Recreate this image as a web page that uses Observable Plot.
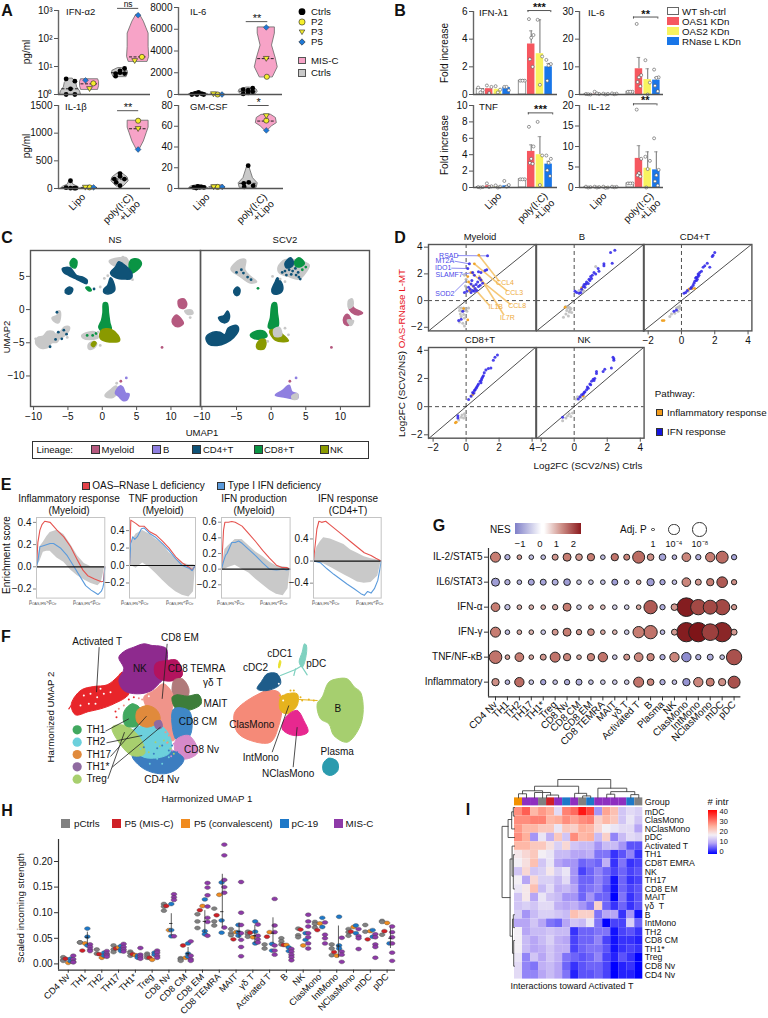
<!DOCTYPE html>
<html><head><meta charset="utf-8">
<script src="https://cdn.jsdelivr.net/npm/d3@7"></script>
<script src="https://cdn.jsdelivr.net/npm/@observablehq/plot@0.6"></script>
<style>
html,body{margin:0;padding:0;background:#fff}
#root{position:relative;width:768px;height:1018px;overflow:hidden;font-family:"Liberation Sans",Arial,sans-serif;color:#111}
#root svg{position:absolute;overflow:visible;background:transparent;max-width:none}
.t{position:absolute;white-space:nowrap;line-height:1}
.t sub{font-size:70%;vertical-align:baseline;position:relative;top:.25em}
</style></head><body><div id="root"></div>
<script>
/* ---------- panel A data: [group, offset, value, symbol] symbol 0 ctrl,1 P2,2 P3,3 P5 ---------- */
const aGroupX=[0,1,2.6,3.55];
const aIFNa=[[0,-.23,3.6,0],[0,.23,3,0],[0,0,1.6,0],[0,-.23,1,0],[0,.23,1,0],[1,-.21,3.2,3],[1,.2,2.5,1],[1,0,1.6,2],[2,-.23,5.6,0],[2,0,7,0],[2,.24,8.5,0],[2,-.23,4.5,0],[2,.24,5.6,0],[2,0,6,0],[3,0,680,3],[3,.2,22,1],[3,-.18,16,2]];
const aIL6=[[0,-.17,100,0],[0,0,200,0],[0,.17,60,0],[0,-.35,0,0],[0,-.08,0,0],[0,.27,0,0],[1,0,0,1],[1,-.22,50,2],[1,.23,0,3],[2,-.26,450,0],[2,-.26,50,0],[2,0,400,0],[2,.24,580,0],[2,.24,250,0],[2,0,150,0],[3,0,6170,3],[3,0,3300,2],[3,.03,1630,1]];
const aIL1=[[0,0,140,0],[0,-.23,15,0],[0,0,5,0],[0,.2,5,0],[0,.28,5,0],[1,0,20,1],[1,-.22,20,2],[1,.21,20,3],[2,0,270,0],[2,-.3,170,0],[2,.23,170,0],[2,0,220,0],[2,0,50,0],[2,-.2,110,0],[3,0,1225,1],[3,0,1080,2],[3,0,705,3]];
const aGM=[[0,-.25,1,0],[0,-.04,2,0],[0,.14,1.5,0],[0,.28,1,0],[0,-.12,.5,0],[0,.05,1,0],[1,0,1.5,1],[1,-.21,1.5,2],[1,.24,1.5,3],[2,0,22,0],[2,-.23,5,0],[2,.03,6,0],[2,.26,2.6,0],[2,-.21,1.5,0],[3,0,70,2],[3,0,65.5,1],[3,0,56,3]];
/* violins: [group, kind, median, [value, halfWidth] pairs] */
const aIFNaV=[[0,"g",1.6,[[1,.55],[1.3,.5],[1.8,.35],[2.6,.3],[3.7,.12]]],[1,"p",2.4,[[1.5,.45],[2,.5],[2.8,.5],[3.5,.45]]],[2,"g",6,[[4.3,.35],[5.6,.42],[7,.4],[8.8,.1]]],[3,"p",22,[[15,.5],[22,.58],[50,.55],[150,.55],[400,.3],[700,.1]]]];
const aIL6V=[[0,"g",50,[[0,.5],[100,.4],[260,.08]]],[1,"p",10,[[0,.35],[70,.3]]],[2,"g",300,[[40,.4],[250,.5],[450,.45],[640,.08]]],[3,"p",3300,[[1600,.35],[2500,.6],[3300,.5],[4500,.3],[5600,.45],[6170,.45]]]];
const aIL1V=[[0,"g",15,[[0,.5],[30,.4],[70,.15],[150,.04]]],[1,"p",20,[[5,.3],[35,.3]]],[2,"g",170,[[40,.2],[130,.45],[200,.4],[285,.08]]],[3,"p",1080,[[705,.08],[850,.3],[1000,.45],[1100,.55],[1225,.55]]]];
const aGMV=[[0,"g",1,[[0,.5],[2,.4],[3.2,.08]]],[1,"p",1.5,[[.5,.3],[3,.3]]],[2,"g",5,[[1,.45],[5,.5],[10,.25],[22,.04]]],[3,"p",65,[[56,.08],[60,.3],[63,.55],[68,.5],[71,.25]]]];
const xGroupLabels=["Lipo","poly(I:C)\n+Lipo"];
const aLegend=["Ctrls","P2","P3","P5"];
/* ---------- panel B data ---------- */
const bColors=["#ffffff","#f6575f","#f8f35f","#1976e8"];
const bLegend=["WT sh-ctrl","OAS1 KDn","OAS2 KDn","RNase L KDn"];
const bIFNl=[.4,.42,.38,.5,1,3.65,2.95,2.0];
const bIFNlErr=[.55,.62,.55,.62,1.05,4.6,5.4,2.25];
const bIFNlPts=[[.5,.3,.15],[.65,.55,.1],[.6,.35,.15],[.55,.3,.55],[1,1,1],[5.45,4.3,4.1,2.55,2.0],[5.4,2.75,.7],[2.5,2.2,2.1,1.0]];
const bIL6=[.1,.1,.1,.1,1,9.3,5.4,5.2];
const bIL6Err=[.2,.5,.3,.3,1.1,13.4,9.3,6.2];
const bIL6Pts=[[.2,0,.1],[1,.2,.4],[.3,.2,0],[.4,.3,.1],[1,1,1],[25.5,7,6.2,4.5,3],[12.4,4.3,0],[9,6.2,6,3.2,1.2]];
const bTNF=[.05,.2,.1,.2,1,4.4,4.0,2.85];
const bTNFErr=[.1,.4,.3,.5,1.1,5.2,6.2,3.2];
const bTNFPts=[[.05,.05,0],[.5,.15,.05],[.25,.1,0],[.8,.3,.1],[1,1,1],[7.4,5,3.5,3,2.9],[8,3.9,.3],[3.9,3.5,3,2.1,1.4]];
const bIL12=[.1,.1,.1,.1,1,7.1,4.7,4.3];
const bIL12Err=[.15,.2,.2,.2,1.1,10.2,8.7,8.7];
const bIL12Pts=[[.2,.1,0],[.2,.1,0],[.2,0,-.1],[.2,.15,.05],[1,1,1],[19,7,3.5,3,2.7],[7.5,6.5,4.5,0],[12,4.3,3,1.5,.5]];
/* ---------- panel C: lineage colours and outlines of UMAP clusters ---------- */
const lin={Myeloid:"#b5597f",B:"#8f7fe0",CD4:"#0f5277",CD8:"#0a9444",NK:"#8a9a00",grey:"#c8c8c8"};
const cNS=[
["grey",[[-9.7,-5],[-9.4,-4.2],[-8.6,-4],[-8,-3.3],[-7.2,-3.3],[-6.8,-3.7],[-6.2,-4],[-6.6,-4.9],[-7.4,-5],[-7.8,-5.6],[-9,-5.8]]],
["grey",[[-7.3,-1.2],[-6.6,-.9],[-6.5,-.3],[-6.2,-.2],[-6.1,-1.2],[-6.4,-2],[-7,-1.8]]],
["grey",[[-6.6,-3.6],[-6,-3.2],[-5.5,-2.6],[-4.8,-2.6],[-5,-3.4],[-6,-4.2]]],
["grey",[[-3,-3.9],[-2,-3.4],[-1,-3.4],[-.6,-4.2],[-1.5,-4.5],[-2.8,-4.3]]],
["grey",[[-2,-5.2],[-1.2,-4.8],[-.8,-5.2],[-1.4,-5.9],[-2,-5.9]]],
["grey",[[1,7.3],[2.5,7.8],[3.5,7.8],[3.8,6.8],[2,6.5]]],
["grey",[[.4,-12.9],[1.3,-12],[2,-11.5],[2.3,-12.3],[1.6,-13.2],[.6,-13.2]]],
["grey",[[12,-.2],[13,-.1],[13.2,-.6],[12.4,-.7]]],
["CD8",[[3.9,6.3],[4.2,7.5],[5.2,7.6],[5.7,6.9],[5,5.9],[4.2,5.5]]],
["CD8",[[-4.7,7],[-4.2,7.7],[-3.7,7.3],[-3.9,6.3],[-4.4,6.4]]],
["CD8",[[.2,1],[.7,1],[.9,-.5],[1.1,-2],[1.3,-3],[.2,-3.3],[-.5,-2.7],[-.1,-1.6],[.1,-.5]]],
["CD8",[[-2.4,3.3],[-2,3.4],[-1.6,2.9],[-1.9,2.8]]],
["CD4",[[1.2,5.5],[1.9,6.4],[2.4,7.2],[3,6.9],[3.9,6.1],[4.3,5.5],[4.2,4.7],[3.2,4.6],[2,4.8]]],
["CD4",[[.2,3],[.8,3.7],[1.2,4.8],[1.7,3.9],[1.8,2.9],[1,2.4],[.3,2.5]]],
["CD4",[[-5.8,6.2],[-4.7,6.3],[-4.2,5.7],[-3.7,5.1],[-2.9,4.9],[-2.2,4.4],[-2.3,3.9],[-3.2,4.3],[-4,4.7],[-4.8,5.1],[-5.6,5.6]]],
["CD4",[[-5.4,2.9],[-4.8,3.4],[-4.3,3.1],[-4.6,2.4],[-5.2,2.4]]],
["NK",[[-.2,-3.2],[.5,-2.9],[1.3,-3],[2.3,-3.9],[2.5,-4.7],[.6,-4.8],[-.3,-4.3]]],
["NK",[[-1.6,-5.3],[-1.2,-4.8],[-.9,-5],[-1.3,-5.6]]],
["Myeloid",[[11.1,1.4],[11.9,1.6],[12.3,.8],[11.9,.2],[11.2,.4]]],
["Myeloid",[[10.2,-1.5],[10.8,-.8],[11.4,-1.3],[11.8,-2.1],[11,-2.6],[10.3,-2.2]]],
["B",[[1.9,-12.6],[2.6,-11.5],[3,-11.7],[3.4,-12.6],[3.9,-12.7],[3.6,-13.6],[3,-13.7],[2.4,-13.1]]]];
const cSCV=[
["grey",[[1,6.4],[2,7.5],[3.5,7.5],[5.5,6.7],[5,5.6],[4,4.6],[2.5,5],[1.2,5.5]]],
["grey",[[-5.8,6.1],[-4.5,7.5],[-3.7,7.5],[-3.8,6],[-3,5],[-2.1,4.2],[-3,4],[-4.5,5]]],
["CD4",[[-9.4,-4.2],[-8.4,-3.4],[-7.4,-3.4],[-6.7,-3.8],[-6.2,-2.8],[-5,-2.4],[-4.7,-3],[-5.4,-4.2],[-6.5,-5],[-7.8,-5.4],[-9,-5.2]]],
["CD4",[[-7.6,-1.2],[-6.8,-.9],[-6.3,-.2],[-6,-1],[-6.4,-1.9],[-7.1,-1.9]]],
["CD4",[[.1,3],[.6,4.2],[.9,4.8],[1.6,3.8],[1.6,2.8],[.8,2.3],[.2,2.5]]],
["CD4",[[-5.4,2.8],[-4.9,3.4],[-4.5,3],[-4.7,2.2],[-5.2,2.2]]],
["CD4",[[2,7],[2.8,7.8],[3.2,7.2],[3,6.5],[2.2,6.3]]],
["CD8",[[3.4,7.2],[4,7.8],[4.8,7],[4.3,6.5],[3.6,6.5]]],
["CD8",[[.2,.9],[.7,1],[.9,-.5],[1,-2.5],[.2,-3],[-.4,-2.7],[-.1,-1.2]]],
["CD8",[[-3,-3.8],[-2,-3.2],[-1,-3.3],[-.6,-4],[-1.3,-4.4],[-2.6,-4.3]]],
["NK",[[-.2,-3.2],[.8,-3],[1,-3.2],[2.5,-4.7],[.6,-4.6]]],
["NK",[[-2.1,-5.3],[-1.5,-4.5],[-.8,-4.6],[-1,-5.9],[-2,-5.9]]],
["grey",[[.4,-3],[1.2,-2.7],[1.5,-3.9],[.5,-4]]],
["Myeloid",[[11.4,1],[12,.2],[13.2,-.5],[12.6,-.8],[11.6,-.4],[11.2,.4]]],
["grey",[[11.2,1.4],[11.7,1.6],[11.8,.6],[11.2,.2]]],
["Myeloid",[[10.5,-1.2],[11,-.7],[11.5,-1.4],[11.6,-2],[11,-2.4],[10.5,-2]]],
["grey",[[11,-1.6],[11.9,-1.7],[11.5,-2.4]]],
["B",[[.6,-12.9],[1.6,-12.2],[2.6,-11.4],[3,-12.4],[3.8,-12.7],[3.8,-13.4],[2,-13.2]]],
["grey",[[3,-13],[3.8,-12.7],[3.8,-13.4],[3.1,-13.5]]]];
const cNSDots=[["Myeloid",8.7,-5.7],["Myeloid",2.7,-10.8],["B",3.5,-10.3],["CD4",-6.6,-.4],["CD4",-6.4,-3.4],["CD4",-5.6,-3.1],["CD4",-5.2,-3.7],["CD4",-6.8,-4.5],["CD4",-7.6,-5.6],["CD4",-5.9,-4.4],["CD8",-2.2,-3.9],["CD8",-1.4,-3.9],["CD8",-.9,-3.6],["CD4",-1.2,3.1],["grey",.8,5.1],["grey",.3,4.7],["grey",-.3,3.4],["grey",4.4,4.5],["grey",-.6,-3.4],["grey",-.3,-5.4],["grey",12.8,-1.2],["grey",2.1,-11.1],["grey",-9.7,-4.4],["grey",-5.1,-4.2],["grey",3,7.9]];
const cSCVDots=[["Myeloid",8.7,-5.7],["Myeloid",2.7,-10.8],["B",3.6,-10.3],["CD4",2,5.8],["CD4",2.6,6],["CD4",3.1,5.8],["CD4",3.5,6.2],["CD4",1.6,5.6],["CD4",2.2,5.2],["CD4",2.9,5.3],["CD4",3.6,5.2],["CD4",4,4.9],["CD4",4.2,4.6],["CD4",3.9,5.6],["CD8",5,6.4],["CD8",4.5,6],["CD4",-4.3,6],["CD4",-4,5.5],["CD4",-3.4,4.9],["CD4",-2.9,4.5],["CD4",-5,5.6],["CD8",-1.9,3.2],["grey",1.3,4.6],["grey",.2,5],["grey",2,4.2],["grey",2,-2.8],["grey",2.5,-3.8],["grey",-.5,-4.8]];
const cLegend=[["Myeloid","Myeloid"],["B","B"],["CD4","CD4+T"],["CD8","CD8+T"],["NK","NK"]];
/* ---------- panel D: Log2FC pairs ---------- */
const dMyeBlue=[[1.3,3.35],[.2,2.75],[.1,2.4],[1.25,2.3],[1.15,2.25],[.9,2.1],[.75,2.15],[.4,2.1],[.5,1.9],[.8,1.7],[.9,1.55],[.7,1.4],[.35,1.5],[.6,1.2],[.45,1.1],[.3,1.25],[.75,1.05],[.85,1.15],[.55,.9],[.25,.85],[.4,.75],[-.1,.6],[.05,.7],[.15,1],[.3,.6],[.5,.7],[1,1.3],[.65,.75],[-.2,-.8],[-.3,-1.4],[-.45,-1.5]];
const dMyeOr=[[.77,3.4],[.5,2.75],[.3,2.1],[.15,1.4],[.2,.75],[.1,1.8],[.1,-1.45],[-.15,-.6]];
const dMyeGrey=[[-.1,1.9],[0,1.6],[-.05,1.1],[.25,.7],[-.45,-.5],[-.3,-.55],[-.15,-.55],[0,-.6],[.15,-.55],[-.4,-.75],[-.25,-.8],[-.1,-.75],[.05,-.8],[-.35,-1],[-.15,-1.05],[-.3,-1.2],[-.1,-1.3],[-.4,-1.6],[-.2,-1.7],[-.1,-1.9]];
const dBBlue=[[2.46,3.77],[2.2,3.6],[2.3,2.8],[1.8,2.75],[1.8,2.6],[1.45,2.4],[1.5,2.2],[1.3,2],[1.2,2.1],[1.1,1.9],[1,1.8],[.95,1.5],[.85,1.27],[.75,1.4],[.65,1],[.6,1.2],[.45,.85],[.15,.6],[.3,.55],[.05,.7],[.4,.6],[1.05,1.65],[.9,1.6],[.7,1.25],[.55,1.05]];
const dBGrey=[[1.3,2.55],[.7,1.2],[.5,.8],[.3,.75],[.6,.7],[-.5,-.45],[-.3,-.5],[-.2,-.6],[-.45,-.75],[-.3,-.85],[-.15,-.9],[-.5,-1],[-.35,-1.15],[-.65,-1.25],[-.4,-.55],[-.25,-.7]];
const dBOr=[[-.55,-.5],[.45,.95]];
const dCD4Blue=[[2,3.6],[1.9,3.4],[1.85,3.3],[1.7,2.5],[1.55,2.8],[1.4,2.6],[1.3,2.5],[1.2,2.2],[1.1,2.1],[1.05,1.9],[1,1.8],[.95,1.6],[.9,1.5],[.85,1.7],[.75,1.3],[.6,1],[.55,.9],[.35,.75],[.25,.6],[.15,.55],[-.3,-.7],[-.45,-.8],[1,2],[.9,1.75],[.8,1.45],[.7,1.15]];
const dCD4Grey=[[.4,.7],[.7,1],[-.1,-.4],[-.2,-.5],[-.1,-.6],[-.3,-.55],[-.2,-.8],[-.4,-.95],[-.6,-1],[-.7,-1.2]];
const dCD4Or=[[.45,.85],[.65,.9],[.8,.9],[-1.05,-1.5],[-1.15,-1.5]];
const dCD8Blue=[[1.9,3.67],[1.75,3.5],[1.65,3.3],[1.5,2.75],[1.35,2.7],[1.2,2.6],[1.1,2.4],[1.05,2.2],[.95,2],[.93,1.9],[.85,1.8],[.75,1.6],[.65,1.4],[.55,1.2],[.5,1.15],[.4,1],[.3,.75],[.15,.5],[-.5,-.65],[-.5,-.8],[1,2.1],[.9,1.7],[.7,1.5],[.6,1.3],[.45,.95]];
const dCD8Grey=[[.3,.7],[.5,1],[-.1,-.5],[-.25,-.6],[-.05,-.65],[-.3,-.75],[-.15,-.8],[-.45,-.95]];
const dCD8Or=[[.4,.85],[-.6,-1.1],[-.65,-1.15]];
const dNKBlue=[[2.35,3.5],[2.4,3.4],[2.4,3.3],[2.25,2.75],[1.85,2.65],[1.75,2.5],[1.35,2.5],[1.35,2.35],[1.25,2],[1.15,1.95],[1.05,1.8],[.95,1.6],[.85,1.3],[.75,1.2],[.65,1.05],[.55,.9],[.45,.85],[.35,.7],[.25,.55],[-.7,-.75],[1.2,1.85],[1,1.55],[.8,1.4],[.6,1]];
const dNKGrey=[[.2,.7],[.4,.65],[.6,.6],[.1,.55],[-.1,-.45],[-.3,-.5],[-.4,-.65],[-.2,-.7],[-.5,-.8],[-.7,-1]];
const dNKOr=[[.55,.75]];
const dMyeTags=[["RSAD",-1.05,3.37,1],["MT2A",-1.29,2.95,1],["IDO1",-1.39,2.43,1],["SLAMF7",-1.03,1.96,1],["SOD2",-1.29,.5,1],["CCL4",2.36,1.36,0],["CCL3",2.91,.6,0],["CCL8",3.09,-.42,0],["IL1B",1.8,-.47,0],["IL7R",2.5,-1.32,0]];
const dLeadBlue=[[-.55,3.37,1.3,3.35],[-.7,2.95,.2,2.75],[-.9,2.43,.1,2.4],[-.25,1.96,.4,2.1],[-.7,.65,0,1.5]];
const dLeadOr=[[.77,3.4,2,1.45],[.5,2.75,2.5,.7],[.3,2.1,2.7,-.3],[.15,1.4,1.4,-.35],[.77,1.9,2.3,-1.1]];
/* ---------- panel E: running enrichment curves [fraction, score]; bands [fraction, top, bottom] ---------- */
const e1Red=[[0,0],[.02,.22],[.05,.33],[.08,.38],[.12,.41],[.2,.4],[.3,.33],[.4,.27],[.5,.18],[.6,.06],[.68,-.03],[.75,-.08],[.85,-.11],[.95,-.135],[.98,-.13],[1,0]];
const e1Blue=[[0,0],[.02,.05],[.05,.18],[.1,.19],[.2,.21],[.25,.21],[.35,.17],[.45,.1],[.55,0],[.65,-.1],[.72,-.17],[.8,-.21],[.85,-.23],[.9,-.25],[.95,-.22],[.97,-.19],[.985,-.15],[1,0]];
const e1Band=[[0,0,0],[.05,.18,.05],[.1,.22,.13],[.15,.27,.14],[.2,.31,.14],[.3,.33,.08],[.4,.29,.04],[.5,.2,-.03],[.6,.1,-.08],[.7,.03,-.12],[.8,0,-.15],[.9,0,-.17],[.95,0,-.14],[1,0,0]];
const e2Red=[[0,0],[.02,.52],[.1,.48],[.15,.45],[.22,.45],[.3,.39],[.4,.35],[.5,.28],[.6,.2],[.7,.1],[.8,.03],[.9,-.02],[.95,-.05],[1,0]];
const e2Blue=[[0,0],[.02,.25],[.05,.33],[.08,.3],[.12,.33],[.18,.42],[.22,.43],[.3,.37],[.4,.32],[.5,.25],[.6,.17],[.7,.08],[.8,0],[.9,-.03],[.95,-.06],[.98,-.02],[1,0]];
const e2Band=[[0,0,0],[.05,.3,-.01],[.1,.36,-.03],[.2,.4,.03],[.3,.36,-.02],[.4,.3,-.09],[.5,.25,-.17],[.6,.15,-.24],[.7,.08,-.3],[.8,.03,-.34],[.9,.01,-.36],[.97,.01,-.3],[1,0,0]];
const e3Red=[[0,0],[.03,.5],[.05,.6],[.1,.6],[.15,.61],[.2,.6],[.3,.55],[.4,.45],[.5,.35],[.6,.24],[.7,.14],[.8,.05],[.88,.02],[.95,.02],[1,0]];
const e3Blue=[[0,0],[.03,.1],[.06,.18],[.08,.2],[.12,.28],[.15,.34],[.2,.34],[.25,.36],[.3,.33],[.4,.25],[.5,.17],[.6,.08],[.7,0],[.8,-.01],[.9,0],[.95,-.01],[1,0]];
const e3Band=[[0,0,0],[.05,.25,0],[.1,.3,.02],[.2,.38,.05],[.3,.38,0],[.4,.3,-.05],[.5,.22,-.13],[.6,.16,-.2],[.7,.09,-.27],[.8,.04,-.32],[.9,.03,-.34],[.97,.02,-.25],[1,0,0]];
const e4Red=[[0,0],[.03,.35],[.05,.58],[.08,.72],[.12,.7],[.18,.72],[.25,.65],[.35,.55],[.45,.45],[.55,.35],[.65,.25],[.75,.15],[.85,.1],[.92,.05],[1,0]];
const e4Blue=[[0,0],[.1,-.03],[.2,-.14],[.3,-.24],[.4,-.33],[.5,-.42],[.6,-.5],[.7,-.59],[.75,-.62],[.8,-.55],[.85,-.58],[.9,-.5],[.95,-.35],[.98,-.15],[1,0]];
const e4Band=[[0,0,0],[.05,.25,-.02],[.1,.35,-.04],[.15,.42,-.05],[.25,.4,-.11],[.35,.35,-.18],[.45,.3,-.25],[.55,.2,-.31],[.65,.14,-.38],[.75,.08,-.4],[.85,.04,-.39],[.95,.02,-.27],[1,0,0]];
/* ---------- panel F: cluster outlines ---------- */
const fClusters=[
["#e8252a",[[212,240],[222,215],[245,192],[280,183],[320,178],[350,155],[365,140],[378,150],[385,205],[340,235],[300,250],[265,258],[225,268]]],
["#8e2a8e",[[355,95],[375,75],[400,65],[430,55],[455,60],[480,62],[498,70],[500,110],[495,150],[470,180],[450,197],[410,205],[370,195],[355,165],[370,130]]],
["#b3135e",[[465,115],[500,105],[530,105],[545,150],[520,165],[490,165],[465,150]]],
["#b07a7a",[[520,165],[545,160],[565,190],[560,215],[520,215]]],
["#f0948a",[[430,215],[460,195],[490,175],[520,215],[515,260],[530,300],[520,345],[480,330],[450,270]]],
["#3d7d3a",[[515,215],[530,208],[560,212],[595,208],[602,235],[560,255],[525,248]]],
["#3f87c7",[[520,250],[565,255],[575,300],[565,335],[530,345],[515,300]]],
["#d68ac9",[[525,345],[565,330],[592,380],[560,400],[530,395]]],
["#3c7dc0",[[395,390],[440,375],[500,370],[550,400],[530,430],[490,445],[430,430]]],
["#6cd0dc",[[400,310],[480,300],[512,345],[505,385],[430,395],[390,350]]],
["#a8cf6e",[[335,305],[375,300],[420,340],[432,385],[395,390],[355,350]]],
["#41a85f",[[370,260],[395,235],[420,250],[412,300],[375,300]]],
["#e08a3c",[[410,255],[440,240],[470,255],[478,285],[440,305],[410,290]]],
["#8f6aa0",[[462,290],[480,285],[485,305],[468,310]]],
["#f58a78",[[700,270],[710,250],[740,225],[775,205],[800,195],[835,200],[845,240],[835,300],[810,350],[750,345],[710,320]]],
["#1e5c8a",[[770,190],[785,165],[800,145],[830,145],[840,175],[800,195]]],
["#e6b31e",[[840,215],[860,205],[890,205],[890,240],[860,265],[840,255]]],
["#e7288f",[[860,270],[890,255],[910,285],[922,320],[880,330],[845,310]]],
["#a6cf6f",[[950,235],[965,215],[985,170],[1010,160],[1040,160],[1062,185],[1080,200],[1088,260],[1075,310],[1040,350],[1000,330],[985,295],[960,280]]],
["#2b9bae",[[968,415],[985,398],[1010,408],[1012,435],[990,450],[970,440]]],
["#7fd1c0",[[912,55],[918,60],[915,100],[905,125],[896,110],[905,80]]],
["#e9e12a",[[834,125],[838,105],[841,108],[836,128]]]];
const fThreads=[["#7fd1c0",[[840,150],[885,132],[905,120]]],["#7fd1c0",[[905,125],[920,148]]],["#7fd1c0",[[885,130],[880,150]]],["#e6b31e",[[895,222],[950,225]]],["#e8252a",[[212,240],[205,250]]]];
const fSpeckle=[
["#6cd0dc",[[420,370],[455,360],[480,380],[495,360],[440,395],[470,400],[505,395],[448,415],[485,415]]],
["#a8cf6e",[[400,370],[425,355],[445,380],[465,350],[490,345],[510,370],[520,385],[478,362],[502,350]]],
["#3c7dc0",[[430,365],[460,385],[485,360],[505,375],[530,380],[540,395],[470,368],[515,360]]],
["#d68ac9",[[515,375],[520,355],[530,360],[512,392]]],
["#f0948a",[[440,225],[425,222],[415,218],[500,352],[495,320],[505,330],[370,240],[355,250]]],
["#ffffff",[[250,210],[270,205],[290,215],[310,205],[265,235],[330,200],[300,190],[240,240],[285,235],[420,212],[445,212],[505,180],[850,205],[848,225],[835,175],[860,195]]],
["#e8252a",[[348,275],[345,258],[385,222],[400,215]]],
["#e6b31e",[[900,215],[905,225],[880,195],[870,195],[925,222],[940,225],[838,210]]]];
const fTags=[["Activated T",290,50],["CD8 EM",538,38],["NK",418,130],["CD8 TEMRA",588,130],["γδ T",637,172],["MAIT",645,236],["CD8 CM",592,288],["CD8 Nv",603,372],["CD4 Nv",484,462],["cDC1",838,85],["cDC2",765,126],["pDC",947,116],["ClasMono",754,297],["B",1012,250],["IntMono",781,396],["NClasMono",863,444],["Plasma",1010,379]];
const fKey=[["TH1","#41a85f",313],["TH2","#6cd0dc",350],["TH17","#e08a3c",387],["TH1*","#8f6aa0",424],["Treg","#a8cf6e",461]];
const fLeads=[[296,65,288,200],[500,55,485,220],[315,317,385,280],[318,352,425,330],[330,393,438,272],[335,425,480,305],[322,460,372,320],[815,380,865,240],[878,425,890,305]];
/* ---------- panel G ---------- */
const gCells=["CD4 Nv","TH1","TH2","TH17","TH1*","Treg","CD8 Nv","CD8 CM","CD8 EM","CD8 TEMRA","MAIT","γδ T","Activated T","B","Plasma","NK","ClasMono","IntMono","NClasMono","mDC","pDC"];
const gPaths=["IL-2/STAT5","IL6/STAT3","IFN-α","IFN-γ","TNF/NF-κB","Inflammatory"];
const gNES=[
[1.3,-.8,.9,-.6,-.6,1,1.3,1,1.3,-.6,1.4,1.2,1.5,1.1,-.9,-.7,1.2,-.8,1.3,1.5,-.9],
[-1,-.8,-.7,-.9,-.9,-.8,-1,-.5,-.5,-.6,-1,-.6,.8,-1,-.9,-.6,1.2,1,1.3,1.7,1.1],
[1.3,-.6,.7,.7,.7,.8,1.3,-.4,.8,.6,-.4,-.4,.8,1.7,-.8,1,2.4,1.9,1.9,1.9,1],
[1.3,-.6,.8,.7,-.5,1,1.3,1,1.1,.8,.7,-.5,1.3,1.4,-.7,1,2.4,2.5,2,2.3,1],
[1.4,.9,1.3,.8,1,1.4,1.2,.8,1.2,1.4,-.5,1,1.2,1.2,-.8,1.2,-1.2,-.8,-.8,-.6,1.8],
[1.1,-.7,1.5,-.5,-.9,-.6,-.8,-.8,-.6,-.5,-.5,-.5,1.4,1.2,-.8,-.6,-1.1,1.2,1.3,1.1,1.8]];
const gSize=[
[15,8,7,7,7,9,12,10,11,7,11,9,18,10,10,7,13,8,14,18,8],
[12,8,7,9,9,9,10,7,7,7,9,7,7,11,8,7,13,9,11,16,8],
[13,8,7,7,7,8,12,7,7,7,7,7,7,20,8,10,28,23,21,23,8],
[15,7,7,7,7,9,12,8,10,7,7,7,17,20,7,9,29,29,25,29,9],
[19,7,13,7,9,15,11,7,11,14,7,9,13,11,8,14,14,8,9,7,23],
[11,7,14,7,8,7,8,9,7,7,7,7,15,10,8,7,11,14,12,11,18]];
/* ---------- panel H ---------- */
const hCats=["CD4 Nv","TH1","TH2","TH17","TH1*","Treg","CD8 Nv","CD8 CM","CD8 EM","CD8 TEMRA","MAIT","γδ T","Activated T","B","NK","ClasMono","IntMono","NClasMono","mDC","pDC"];
const hPctrl=[[.013,.008,.006],[.042,.042],[.028,.02],[.036,.028,.023],[.024,.021,.016],[.02,.016,.012],[.117,.112,.104],[.011,.009,.006],[.097,.083,.07],[.108,.083,.075],[.068,.06,.056],[.063,.058,.053],[.038,.03],[.05,.044,.038],[.069,.056,.052],[.082,.078,.071],[.038,.03,.017],[.068,.062,.055],[.076,.063],[.084,.082,.057]];
const hP5M=[[.01],[.026],[.019],[.03],[.019],[.012],[.113],[.036],[.105],[.095],[.048],[.061],[.053],[.037],[.067],[.066],[.023],[.063],[.048],[.064]];
const hP5C=[[.002],[.04],[.012],[.032],[.017],[.008],[.066],[.012],[.113],[.135],[.062],[.052],[.062],[.037],[.036],[.079],[.016],[.072],[.064],[.08]];
const hPC19=[[.01,.005],[.069,.053,.036],[.022,.016],[.035,.028,.025],[.016,.012],[.022,.018],[.117,.066,.054],[.04,.02,.014],[.126,.064,.058],[.159,.085,.061],[.076,.062,.055],[.083,.063,.04],[.039,.026],[.032,.025],[.06,.047],[.09,.072],[.092,.036,.03],[.075,.06],[.066,.053],[.04]];
const hMISC=[[.016,.009,.004,.003],[.038,.033,.028,.025],[.025,.02,.017,.014],[.039,.033,.028,.024],[.031,.018,.014,.01],[.026,.022,.016,.012],[.136,.13,.125,.054],[.044,.016,.009,.006],[.158,.149,.134,.112,.09,.082,.055],[.233,.212,.164,.15,.139,.071],[.16,.1,.076,.06,.047,.033,.015],[.077,.055,.048,.042],[.127,.075,.062,.036,.026,.018],[.029,.024,.018,.013,.007],[.096,.083,.073,.06,.052,.04,.03],[.081,.057,.05,.04],[.051,.024,.018,.004],[.068,.054,.05,.029],[.058,.052,.038,.033,.012],[.073,.062,.052,.04,.022,.006]];
const hGroups=[["pCtrls","#808080",-.3,hPctrl],["P5 (MIS-C)","#cf2027",-.16,hP5M],["P5 (convalescent)","#f08b1f",0,hP5C],["pC-19","#1d78c8",.14,hPC19],["MIS-C","#8e3aa8",.3,hMISC]];
const hErr=[[1,.14,.036,.062,.052],[6,.14,.054,.098,.079],[7,.14,.014,.032,.02],[8,.14,.06,.104,.083],[9,.18,.07,.175,.102],[10,.18,.05,.08,.063],[11,.12,.04,.075,.055],[12,.2,.04,.09,.06],[16,.1,.012,.074,.035],[19,.2,.03,.07,.05]];
/* ---------- panel I ---------- */
const iRows=["mDC","ClasMono","NClasMono","pDC","Activated T","TH1","CD8T EMRA","NK","TH17","CD8 EM","MAIT","γδ  T","B","IntMono","TH2","CD8 CM","TH1*","Treg","CD8 Nv","CD4 Nv"];
const iGroupColors=["#f39200","#8e2fc0","#8e2fc0","#808080","#cf2027","#8e2fc0","#1d78c8","#8e2fc0","#808080","#1d78c8","#8e2fc0","#8e2fc0","#8e2fc0","#8e2fc0","#1d78c8","#808080"];
const iMatrix=[
[28,32,24,27,25,15,29,31,38,34,9,26,23,13,15,14],
[28,28,29,29,24,25,28,26,28,29,21,24,22,13,16,13],
[27,24,24,22,22,16,22,21,25,24,20,17,16,15,15,10],
[28,25,9,16,11,22,13,28,24,25,12,21,8,12,15,14],
[24,24,22,22,19,14,20,13,12,12,9,12,12,9,5,5],
[18,20,22,17,16,12,12,10,10,11,7,7,3,5,8,3],
[17,19,23,13,16,10,9,9,6,7,6,11,3,7,3,4],
[13,20,13,14,18,14,16,9,4,6,8,6,4,6,4,5],
[17,10,20,14,14,12,15,9,6,6,8,6,1,6,3,4],
[16,18,23,12,15,11,12,10,6,7,8,5,1,6,4,5],
[13,18,10,16,13,12,9,9,6,9,6,6,0,7,3,5],
[13,14,13,15,15,11,10,11,9,7,21,6,3,6,3,5],
[14,9,12,14,14,13,12,23,21,21,7,10,10,3,9,1],
[10,10,13,10,7,6,10,13,12,16,7,0,4,4,14,6],
[17,10,12,12,13,12,12,3,6,6,7,7,1,4,5,3],
[17,12,10,12,14,11,10,4,6,6,8,4,1,3,3,2],
[17,12,10,11,13,11,11,4,6,7,7,5,1,3,4,3],
[16,8,13,10,13,11,7,6,5,6,8,4,2,5,3,0],
[15,8,7,11,12,10,6,3,5,6,6,4,0,2,3,0],
[15,8,8,10,12,10,7,2,5,5,6,4,0,2,2,0]];
/* dendrogram brackets: [a, b, mergeHeight, heightA, heightB] */
const iTopTree=[[5.4,12,-3.26,-2.48,-2.25],[2.5,8,-2.48,-1.95,-1.65],[1,3.5,-1.95,-1.6,-1.12],[.5,1.5,-1.6,-1.12,-1.12],[2.5,4.5,-1.75,-1.12,-1.45],[4,5.5,-1.45,-1.12,-1.12],[7.5,9,-1.65,-1.12,-1.35],[8.5,9.5,-1.35,-1.12,-1.12],[10.4,14,-2.25,-1.12,-1.85],[12,15,-1.85,-1.55,-1.5],[11.5,12.5,-1.55,-1.12,-1.12],[14.5,15.5,-1.5,-1.12,-1.12]];
const iLeftTree=[[2.2,10.5,-1.55,-.8,-.55],[1.4,3.5,-.8,-.35,0],[.5,2.5,-.35,-.15,0],[0,1,-.15,0,0],[6,15,-.55,-.3,-.25],[4.5,8,-.3,0,-.15],[5.5,9.5,-.15,0,0],[13,17,-.25,-.15,-.1],[12.5,14,-.15,0,0],[15.5,18.5,-.1,0,0]];
/* ---------- layout helpers ---------- */
const root=document.getElementById("root");
const FONT='"Liberation Sans",Arial,sans-serif';
const X=d=>d[0],Y=d=>d[1];
const intFmt=d=>String(d).replace("-","−");
function F(x0,y0,x1,y1,ml=40,mt=14,mr=14,mb=30){return{left:x0-ml,top:y0-mt,width:x1-x0+ml+mr,height:y1-y0+mt+mb,marginLeft:ml,marginTop:mt,marginRight:mr,marginBottom:mb};}
function chart(f,o){const{left,top,...m}=f;const p=Plot.plot({...m,style:{background:"transparent",fontFamily:FONT,fontSize:"10px",overflow:"visible"},...o});p.style.left=left+"px";p.style.top=top+"px";root.append(p);return p;}
function lab(t,x,y,o={}){const e=document.createElement("div");e.className="t";e.innerHTML=t;const a=o.anchor==="middle"?"-50%":o.anchor==="end"?"-100%":"0";
e.style.cssText+=`left:${x}px;top:${y}px;font-size:${o.size||10}px;color:${o.color||"#111"};font-weight:${o.weight||"normal"};transform:translate(${a},-50%) rotate(${o.rotate||0}deg);`;if(o.family)e.style.fontFamily=o.family;root.append(e);return e;}
function box(x,y,w,h,bg,b){const e=document.createElement("div");e.style.cssText=`position:absolute;left:${x}px;top:${y}px;width:${w}px;height:${h}px;box-sizing:border-box;background:${bg};${b?`border:${b};`:""}`;root.append(e);return e;}
function circ(x,y,r,bg,b){const e=box(x-r,y-r,2*r,2*r,bg,b);e.style.borderRadius="50%";return e;}
const triDown={draw(c,s){const r=Math.sqrt(s);c.moveTo(0,r*.7);c.lineTo(r*.75,-r*.55);c.lineTo(-r*.75,-r*.55);c.closePath();}};
const oval={draw(c,s){const r=Math.sqrt(s/Math.PI),a=r*1.3,b=r*.88,k=.5523;c.moveTo(a,0);c.bezierCurveTo(a,b*k,a*k,b,0,b);c.bezierCurveTo(-a*k,b,-a,b*k,-a,0);c.bezierCurveTo(-a,-b*k,-a*k,-b,0,-b);c.bezierCurveTo(a*k,-b,a,-b*k,a,0);c.closePath();}};
const axY=o=>Plot.axisY({label:null,tickSize:4,tickPadding:2,fontSize:10,stroke:"#555",...o});
const axX=o=>Plot.axisX({label:null,tickSize:4,tickPadding:2,fontSize:10,stroke:"#555",...o});
/* ---------- panel letters ---------- */
[["A",7,11],["B",400,11],["C",7,238],["D",400,238],["E",6,485],["F",6,637],["G",439,526],["H",7,811],["I",468,810]].forEach(([t,x,y])=>{const e=lab(t,x,y,{size:16,weight:"bold",anchor:"middle",family:'"Liberation Sans Narrow","Liberation Sans",Arial'});});
/* ---------- A ---------- */
function drawA(fr,xd,y,ticks,fmt,pts,vio,sig,stars,ymin,showX,labX){
 const kindFill={g:"#c9c9c9",p:"#f7a3c7"};
 const P=(k,o)=>Plot.dot(pts.filter(d=>d[3]===k),{x:d=>aGroupX[d[0]]+d[1],y:d=>d[2],...o});
 chart(F(...fr,40,14,14,40),{x:{domain:xd,axis:null},y:{...y,axis:null},marks:[
  ...vio.map(v=>Plot.areaX(v[3],{y:d=>d[0],x1:d=>aGroupX[v[0]]-d[1],x2:d=>aGroupX[v[0]]+d[1],fill:kindFill[v[1]],stroke:"#666",strokeWidth:.8})),
  Plot.ruleY(vio,{y:d=>d[2],x1:d=>aGroupX[d[0]]-.45,x2:d=>aGroupX[d[0]]+.45,stroke:"#111",strokeDasharray:"3 1.5",strokeWidth:.9}),
  P(0,{fill:"#000",r:2.4}),
  P(1,{fill:"#f5ee2c",stroke:"#222",strokeWidth:.6,r:2.6}),
  P(2,{fill:"#f5ee2c",stroke:"#222",strokeWidth:.6,r:2.2,symbol:triDown}),
  P(3,{fill:"#1e78d6",stroke:"#333",strokeWidth:.4,r:2.6,symbol:"diamond2"}),
  Plot.ruleX([xd[0]],{stroke:"#666",strokeWidth:1.4}),Plot.ruleY([ymin],{stroke:"#555",strokeWidth:1.4}),
  axY({ticks,tickFormat:fmt}),
  Plot.ruleY([sig[2]],{x1:sig[0],x2:sig[1],stroke:"#555",strokeWidth:1}),
  Plot.text([stars],{x:(sig[0]+sig[1])/2,y:sig[2],dy:stars==="ns"?-4:-3,fontSize:stars==="ns"?8.5:11}),
  ...(showX?[Plot.text(xGroupLabels,{x:(d,i)=>i?labX[1]:labX[0],y:()=>ymin,dy:4,rotate:-45,textAnchor:"end",lineAnchor:"top",fontSize:10,lineHeight:1.0})]:[])]});
}
const sup={0:"10⁰",1:"10¹",2:"10²",3:"10³"};
drawA([58,10,150,94],[-.63,4.2],{type:"log",domain:[1,1000]},[1,10,100,1000],d=>sup[Math.round(Math.log10(d))],aIFNa,aIFNaV,[2.47,3.58,1190],"ns",1);
drawA([178,7,282,94],[-1.05,4.4],{domain:[0,8000]},[0,2000,4000,6000,8000],String,aIL6,aIL6V,[2.5,3.63,6700],"**",0);
drawA([58,105,150,188],[-.63,4.2],{domain:[0,1500]},[0,500,1000,1500],String,aIL1,aIL1V,[2.47,3.58,1406],"**",0,true,[.55,3.05]);
drawA([178,105,283,188],[-1.05,4.45],{domain:[0,80]},[0,20,40,60,80],String,aGM,aGMV,[2.6,3.7,80],"*",0,true,[.35,3.35]);
[["IFN-α2",66,12],["IL-6",190,12],["IL-1β",65,107],["GM-CSF",190,107]].forEach(([t,x,y])=>lab(t,x,y,{size:9.5}));
lab("pg/ml",27,52,{anchor:"middle",rotate:-90});lab("pg/ml",27,146,{anchor:"middle",rotate:-90});
{const sv=d3.create("svg").attr("width",20).attr("height",80).style("left","292px").style("top","0px");
 const g=(y,sym,size,fill)=>sv.append("path").attr("d",d3.symbol(sym,size)()).attr("transform",`translate(10,${y})`).attr("fill",fill).attr("stroke",fill==="#000"?"none":"#222").attr("stroke-width",.6);
 g(11.7,d3.symbolCircle,36,"#000");g(22,d3.symbolCircle,30,"#f5ee2c");g(32,triDown,14,"#f5ee2c");g(42,d3.symbolDiamond2,26,"#1e78d6");root.append(sv.node());
 aLegend.forEach((t,i)=>lab(t,311,12+i*10.1,{size:9.7}));}
box(298,56.5,8,7.5,"#f7a3c7","1px solid #555");box(298,69,8,7.5,"#c9c9c9","1px solid #555");lab("MIS-C",311,61,{size:9.7});lab("Ctrls",311,73,{size:9.7});
/* ---------- B ---------- */
const bPos=[0,1,2,3,4.83,5.83,6.83,7.83];
function drawB(fr,xd,ymax,ticks,vals,errs,pts,sig,stars,showX,labX){
 const dxs=[-.26,.26,0,-.16,.16];
 const rows=vals.map((v,i)=>({x:bPos[i],v,e:errs[i],c:bColors[i%4]}));
 const dots=pts.flatMap((a,i)=>a.map((v,k)=>({x:bPos[i]+dxs[k%5],v})));
 const tick=ymax*.025;
 chart(F(...fr,40,14,14,40),{x:{domain:xd,axis:null},y:{domain:[0,ymax],axis:null},marks:[
  Plot.ruleX(rows.slice(4),{x:"x",y1:"v",y2:"e",stroke:"#888",strokeWidth:1.2}),
  Plot.rectY(rows,{x1:d=>d.x-.43,x2:d=>d.x+.43,y:"v",fill:"c",stroke:d=>d.c==="#ffffff"?"#777":"none",strokeWidth:.8}),
  Plot.ruleY(rows.slice(4),{y:"e",x1:d=>d.x-.2,x2:d=>d.x+.2,stroke:"#888",strokeWidth:.8}),
  Plot.dot(dots,{x:"x",y:"v",r:1.5,fill:"#fff",stroke:"#555",strokeWidth:.6}),
  Plot.ruleX([xd[0]],{stroke:"#666",strokeWidth:1.4}),Plot.ruleY([0],{stroke:"#555",strokeWidth:1.4}),
  axY({ticks,tickFormat:String}),
  Plot.ruleY([sig[2]],{x1:sig[0],x2:sig[1],stroke:"#555",strokeWidth:1}),
  Plot.ruleX([sig[0],sig[1]],{y1:sig[2]-tick,y2:sig[2],stroke:"#555",strokeWidth:1}),
  Plot.text([stars],{x:(sig[0]+sig[1])/2,y:sig[2],dy:-3,fontSize:11,fontWeight:"bold"}),
  ...(showX?[Plot.text(xGroupLabels,{x:(d,i)=>i?labX[1]:labX[0],y:()=>0,dy:4,rotate:-45,textAnchor:"end",lineAnchor:"top",fontSize:10,lineHeight:1.0})]:[])]});
}
drawB([473,11,557,94],[-.8,8.85],6,[0,2,4,6],bIFNl,bIFNlErr,bIFNlPts,[5.46,8.08,6.07],"***");
drawB([579,11,663,94],[-1,8.65],30,[0,10,20,30],bIL6,bIL6Err,bIL6Pts,[5.2,8,28],"**");
drawB([473,105,557,187],[-.8,8.85],10,[0,2,4,6,8,10],bTNF,bTNFErr,bTNFPts,[5.5,8.3,9.1],"***",true,[1.9,7.2]);
drawB([579,105,663,187],[-1,8.65],20,[0,5,10,15,20],bIL12,bIL12Err,bIL12Pts,[5.2,7.9,20.4],"**",true,[1.6,7.0]);
[["IFN-λ1",479,13],["IL-6",588,13],["TNF",479,107],["IL-12",588,107]].forEach(([t,x,y])=>lab(t,x,y,{size:9.7}));
lab("Fold increase",445,53,{anchor:"middle",rotate:-90});lab("Fold increase",445,145,{anchor:"middle",rotate:-90});
bLegend.forEach((t,i)=>{box(667,7.3+i*10,12,8,bColors[i],i?"1px solid "+bColors[i]:"1px solid #666");lab(t,682,11.5+i*10,{size:9.7});});
/* ---------- C ---------- */
function drawC(fr,xd,blobs,dots,showY){
 chart(F(...fr,showY?30:4,4,4,20),{x:{domain:xd,axis:null},y:{domain:[-14.6,8.9],axis:null},marks:[
  ...blobs.map(([k,pts])=>Plot.line(pts,{x:X,y:Y,fill:lin[k],stroke:lin[k],strokeWidth:1.5,curve:"catmull-rom-closed"})),
  Plot.dot(dots,{x:d=>d[1],y:d=>d[2],fill:d=>lin[d[0]],r:1.4}),
  Plot.frame({stroke:"#555",strokeWidth:1.4}),
  ...(showY?[axY({ticks:[-10,-5,0,5],tickFormat:intFmt})]:[]),
  axX({ticks:[-10,-5,0,5,10],tickFormat:intFmt})]});
}
drawC([30,250,200,406],[-10.45,14.3],cNS,cNSDots,true);
drawC([200,250,369,406],[-10.2,14.2],cSCV,cSCVDots,false);
lab("NS",115,240,{anchor:"middle",size:9.5});lab("SCV2",285,240,{anchor:"middle",size:9.5});lab("UMAP1",202,433,{anchor:"middle",size:9.5});lab("UMAP2",7,337,{anchor:"middle",rotate:-90,size:9.5});
box(31.7,441,337.5,17.5,"transparent","1.2px solid #333");lab("Lineage:",36.5,450,{size:9.5});
[[91,101.5],[152,163],[192,203],[254,264],[320,330]].forEach(([sx,tx],i)=>{box(sx,445,8.5,9,lin[cLegend[i][0]],"1px solid #333");lab(cLegend[i][1],tx,450,{size:9.5});});
/* ---------- D ---------- */
function drawD(fr,blue,grey,or,o={}){
 chart(F(...fr,26,4,4,18),{x:{domain:[-2.28,4.23],axis:null},y:{domain:o.yd||[-2.27,4.2],axis:null},marks:[
  Plot.link([[-2.28,-2.28,4.2,4.2]],{x1:d=>d[0],y1:d=>d[1],x2:d=>d[2],y2:d=>d[3],stroke:"#222",strokeWidth:.8}),
  Plot.ruleY([0],{stroke:"#222",strokeDasharray:"4 3",strokeWidth:.8}),Plot.ruleX([0],{stroke:"#222",strokeDasharray:"4 3",strokeWidth:.8}),
  ...(o.extra0||[]),
  Plot.dot(grey,{x:X,y:Y,r:1.5,fill:"#b5b5b5",fillOpacity:.8}),
  Plot.dot(or,{x:X,y:Y,r:1.4,fill:"#f0a429"}),
  Plot.dot(blue,{x:X,y:Y,r:1.5,fill:"#2b22e8",fillOpacity:.85}),
  ...(o.extra||[]),
  Plot.frame({stroke:"#555",strokeWidth:1.4}),
  ...(o.y?[axY({ticks:[-2,0,2,4],tickFormat:intFmt})]:[]),...(o.x?[axX({ticks:[-2,0,2,4],tickFormat:intFmt})]:[])]});
}
const lnk=(a,o)=>Plot.link(a,{x1:d=>d[0],y1:d=>d[1],x2:d=>d[2],y2:d=>d[3],...o});
drawD([428.3,244.3,535.7,330.7],dMyeBlue,dMyeGrey,dMyeOr,{y:true,extra0:[lnk(dLeadOr,{stroke:"#f6c877",strokeWidth:1.6}),lnk(dLeadBlue,{stroke:"#8d8cf0",strokeWidth:1})],extra:[Plot.text(dMyeTags,{x:d=>d[1],y:d=>d[2],text:d=>d[0],fill:d=>d[3]?"#4a47e8":"#eeaa3e",fontSize:7})]});
drawD([535.7,244.3,643.3,330.7],dBBlue,dBGrey,dBOr);
drawD([643.3,244.3,751.7,330.7],dCD4Blue,dCD4Grey,dCD4Or,{x:true});
drawD([428.3,347,535.7,437.7],dCD8Blue,dCD8Grey,dCD8Or,{y:true,x:true,yd:[-2.24,4.2]});
drawD([535.7,347,643.3,437.7],dNKBlue,dNKGrey,dNKOr,{x:true,yd:[-2.24,4.2]});
[["Myeloid",480,237],["B",582,237],["CD4+T",695,237],["CD8+T",480,340],["NK",584,340]].forEach(([t,x,y])=>lab(t,x,y,{anchor:"middle",size:9.5}));
lab('Log2FC (SCV2/NS) <span style="color:#e8141c">OAS-RNase L-MT</span>',402.3,353,{anchor:"middle",rotate:-90,size:9.8});
lab("Log2FC (SCV2/NS) Ctrls",588,465.7,{anchor:"middle",size:9.8});
lab("Pathway:",654.7,394,{size:9.8});box(655.7,408.7,7.5,7.5,"#f39c1c","1px solid #333");lab("Inflammatory response",667,412.5,{size:9.8});box(655.7,428,7.5,7.5,"#1414e0","1px solid #333");lab("IFN response",667,431.5,{size:9.8});
/* ---------- E ---------- */
function drawE(x0,x1,yd,ticks,red,blue,band,ml){
 chart(F(x0,516.7,x1,597.3,ml||30,4,4,6),{x:{domain:[0,1],axis:null},y:{domain:yd,axis:null},marks:[
  Plot.areaY(band,{x:d=>d[0],y1:d=>d[1],y2:d=>d[2],fill:"#c9c9c9"}),
  Plot.line(red,{x:X,y:Y,stroke:"#e5534f",strokeWidth:1.1}),
  Plot.line(blue,{x:X,y:Y,stroke:"#5b9bdc",strokeWidth:1.1}),
  Plot.ruleY([0],{stroke:"#111",strokeWidth:1.2}),
  Plot.frame({stroke:"#c4c4c4",strokeWidth:1}),
  axY({ticks,tickFormat:d=>d.toFixed(1).replace("-","−"),tickSize:3,stroke:"#888"})]});
}
drawE(36,104.3,[-.282,.444],[-.2,0,.2,.4],e1Red,e1Blue,e1Band);
drawE(129.3,195.3,[-.373,.55],[-.2,0,.2,.4],e2Red,e2Blue,e2Band);
drawE(220.7,289.3,[-.37,.66],[-.2,0,.2,.4,.6],e3Red,e3Blue,e3Band);
drawE(313.3,381,[-.67,.788],[-.4,0,.4],e4Red,e4Blue,e4Band);
box(82,482,8,8,"#e5434a","1px solid #333");lab("OAS–RNase L deficiency",92.3,486,{size:10});box(217,482,8,8,"#5b9bdc","1px solid #333");lab("Type I IFN deficiency",227.7,486,{size:10});
[["Inflammatory response","(Myeloid)",69],["TNF production","(Myeloid)",163],["IFN production","(Myeloid)",254],["IFN response","(CD4+T)",348]].forEach(([a,b,x])=>{lab(a,x,499.3,{anchor:"middle",size:10});lab(b,x,510.7,{anchor:"middle",size:10});});
lab("Enrichment score",7,555,{anchor:"middle",rotate:-90,size:10});
[[29,73],[121,166],[217,260],[312,356]].forEach(([a,b])=>{lab("β<sub>OAS,IFN</sub>>β<sub>Ctr</sub>",a,602.7,{size:5,color:"#444"});lab("β<sub>OAS,IFN</sub><β<sub>Ctr</sub>",b,602.7,{size:5,color:"#444"});});
/* ---------- F ---------- */
chart({left:0,top:625,width:384,height:190,marginLeft:0,marginTop:0,marginRight:0,marginBottom:0},{x:{domain:[0,1152],axis:null},y:{domain:[570,0],axis:null},marks:[
 ...fThreads.map(([c,p])=>Plot.line(p,{x:X,y:Y,stroke:c,strokeWidth:1.2})),
 ...fClusters.map(([c,p])=>Plot.line(p,{x:X,y:Y,fill:c,stroke:c,strokeWidth:1,curve:"catmull-rom-closed"})),
 ...fSpeckle.map(([c,p])=>Plot.dot(p,{x:X,y:Y,r:1,fill:c})),
 lnk(fLeads,{stroke:"#222",strokeWidth:.8}),
 Plot.text(fTags,{x:d=>d[1],y:d=>d[2],text:d=>d[0],fontSize:10,fill:"#111"}),
 Plot.dot(fKey,{x:()=>230,y:d=>d[2],r:4.6,fill:d=>d[1]}),
 Plot.text(fKey,{x:()=>258,y:d=>d[2],text:d=>d[0],textAnchor:"start",fontSize:10})]});
lab("Harmonized UMAP 2",51,716.5,{anchor:"middle",rotate:-90,size:9.7});lab("Harmonized UMAP 1",207,798.5,{anchor:"middle",size:9.7});
/* ---------- G ---------- */
const gData=gPaths.flatMap((p,r)=>gCells.map((c,i)=>({i,r,nes:gNES[r][i],s:gSize[r][i]})));
chart(F(488.3,548.3,740.7,696.7,80,4,10,50),{x:{domain:[-.587,20.57],axis:null},y:{domain:[-.347,5.59],reverse:true,axis:null},
 r:{type:"linear",domain:[0,30],range:[0,10]},color:{type:"linear",domain:[-1.3,0,1.3,2.5],range:["#8583cc","#f5f2f5","#c77d72","#7e1418"]},marks:[
 Plot.dot(gData,{x:"i",y:"r",r:"s",fill:"nes",stroke:"#222",strokeWidth:1}),
 Plot.ruleX([-.587],{stroke:"#333",strokeWidth:1.2}),Plot.ruleY([5.59],{stroke:"#333",strokeWidth:1.2}),
 axY({ticks:d3.range(6),tickFormat:i=>gPaths[i],stroke:"#333"}),
 axX({ticks:d3.range(21),tickFormat:i=>gCells[i],tickRotate:-45,stroke:"#333",textAnchor:"end"})]});
box(514.7,522.7,66,11.6,"linear-gradient(90deg,#7f7fc8 0%,#ffffff 40%,#fff 44%,#cf928a 70%,#8b1a1e 100%)");
lab("NES",490,529.5,{size:10});[["−1",520],["0",540],["1",556.3],["2",573.3]].forEach(([t,x])=>lab(t,x,543.5,{anchor:"middle",size:9.5}));
lab("Adj. P",620,529.5,{size:10});circ(653,529.3,1.7,"#fff","1px solid #333");circ(674,529.3,5.7,"#fff","1px solid #333");circ(699.7,529.3,7.3,"#fff","1px solid #333");
[["1",653],["10⁻⁴",674],["10⁻⁸",700]].forEach(([t,x])=>lab(t,x,543.5,{anchor:"middle",size:9}));
/* ---------- H ---------- */
const hPts=hGroups.flatMap(([n,c,dx,a])=>a.flatMap((vals,i)=>vals.map(v=>({x:i+dx,v,c}))));
chart(F(58,839.3,395,970,40,4,4,48),{x:{domain:[-.58,19.5],axis:null},y:{domain:[-.0123,.243],axis:null},marks:[
 Plot.dot(hPts,{x:"x",y:"v",fill:"c",r:2.2,stroke:"#444",strokeWidth:.4,symbol:oval}),
 Plot.ruleX(hErr,{x:d=>d[0]+d[1],y1:d=>d[2],y2:d=>d[3],stroke:"#333",strokeWidth:.8}),
 Plot.ruleY(hErr,{y:d=>d[4],x1:d=>d[0]+d[1]-.1,x2:d=>d[0]+d[1]+.1,stroke:"#111",strokeWidth:.8}),
 Plot.ruleX([-.58],{stroke:"#333",strokeWidth:1.2}),Plot.ruleY([-.0123],{stroke:"#333",strokeWidth:1.2}),
 axY({ticks:[0,.05,.1,.15,.2],tickFormat:d=>d===.1?"0.10":d===.2?"0.20":d===0?"0.00":String(d),stroke:"#333",fontSize:10}),
 axX({ticks:d3.range(20),tickFormat:i=>hCats[i],tickRotate:-45,tickSize:3,stroke:"#333",textAnchor:"end",fontSize:9.2})]});
lab("Scaled incoming strength",21,908,{anchor:"middle",rotate:-90,size:9.8});
[[61,74],[112,124.5],[181,194],[279.5,291.5],[333.5,345.5]].forEach(([sx,tx],i)=>{box(sx,818.5,9,9,hGroups[i][1]);lab(hGroups[i][0],tx,823.5,{size:9.8});});
/* ---------- I ---------- */
const iCells=iMatrix.flatMap((row,r)=>row.map((v,c)=>({c,r,v})));
const br=(a,h=false)=>a.map((d,k)=>({k,pts:h?[[d[3],d[0]],[d[2],d[0]],[d[2],d[1]],[d[4],d[1]]]:[[d[0],d[3]],[d[0],d[2]],[d[1],d[2]],[d[1],d[4]]]}));
chart(F(514,806.7,642.3,978.3,20,30,60,10),{x:{domain:[0,16],axis:null},y:{domain:[0,20],reverse:true,axis:null},
 color:{type:"linear",domain:[0,10,17,25,40],range:["#0000ff","#b7a6f5","#f3eff5","#ffb09c","#ff0000"]},marks:[
 Plot.rect(iCells,{x1:"c",x2:d=>d.c+1,y1:"r",y2:d=>d.r+1,fill:"v"}),
 Plot.rect(iGroupColors,{x1:(d,i)=>i,x2:(d,i)=>i+1,y1:()=>-1.12,y2:()=>-.19,fill:d=>d}),
 ...br(iTopTree).map(b=>Plot.line(b.pts,{x:X,y:Y,stroke:"#444",strokeWidth:.9})),
 ...br(iLeftTree,true).map(b=>Plot.line(b.pts,{x:X,y:Y,stroke:"#444",strokeWidth:.9})),
 Plot.text(iRows,{x:()=>16.25,y:(d,i)=>i+.5,text:d=>d,textAnchor:"start",fontSize:8.7}),
 Plot.text(["Group"],{x:()=>16.25,y:()=>-.65,textAnchor:"start",fontSize:9})]});
lab("Interactions toward Activated T",510.5,985.7,{size:9});
lab("# intr",707.5,802.3,{size:9.5});
box(707.7,810,9,44,"linear-gradient(180deg,#ff0000 0%,#ffb09c 37%,#f3eff5 57%,#b7a6f5 75%,#0000ff 100%)");
[["40",812.3],["30",822.3],["20",832.3],["10",842.3],["0",852.3]].forEach(([t,y])=>lab(t,719.5,y,{size:7.5}));
</script></body></html>
